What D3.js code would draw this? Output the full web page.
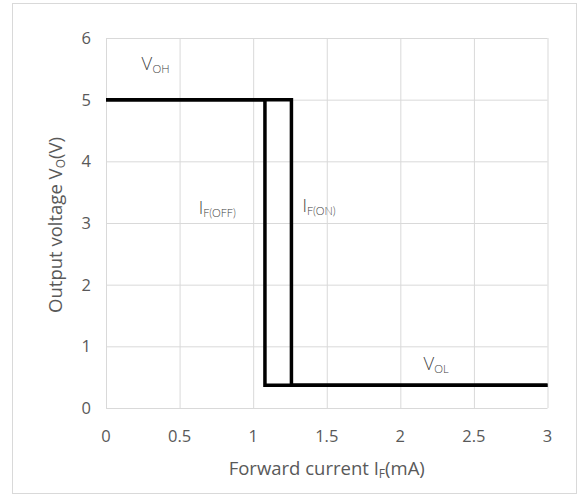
<!DOCTYPE html>
<html>
<head>
<meta charset="utf-8">
<script src="https://cdn.jsdelivr.net/npm/d3@7"></script>
<style>
  html, body { margin: 0; padding: 0; background: #fff; }
  svg text { font-family: "Open Sans", "Noto Sans", sans-serif; fill: #595959; }
  .note { font-family: Lato, "DejaVu Sans", sans-serif; font-weight: 300; fill: #404040; }
</style>
</head>
<body>
<div id="chart"></div>
<script>
  // values
  var xTicks = [0, 0.5, 1, 1.5, 2, 2.5, 3];
  var yTicks = [0, 1, 2, 3, 4, 5, 6];
  // rising current: stays high until I_F(ON), then drops
  var onX = [0, 1.26, 1.26, 3];
  var onY = [5, 5, 0.37, 0.37];
  // falling current: stays low until I_F(OFF), then rises
  var offX = [3, 1.08, 1.08, 0];
  var offY = [0.37, 0.37, 5, 5];
  var noteText = ["V", "I", "I", "V"];
  var noteSub = ["OH", "F(OFF)", "F(ON)", "OL"];
  var noteX = [0.24, 0.63, 1.335, 2.155];
  var noteY = [5.48, 3.15, 3.18, 0.62];

  var width = 578, height = 495;
  var margin = {left: 106, right: 30.5, top: 38, bottom: 87};

  var svg = d3.select("#chart")
    .append("svg")
    .attr("width", width)
    .attr("height", height);

  svg.append("rect")
    .attr("x", 12.5).attr("y", 3.5)
    .attr("width", 564).attr("height", 490)
    .attr("fill", "none")
    .attr("stroke", "#d9d9d9");

  var x = d3.scaleLinear().domain([0, 3]).range([margin.left, width - margin.right]);
  var y = d3.scaleLinear().domain([0, 6]).range([height - margin.bottom, margin.top]);

  // grid
  svg.append("g")
    .attr("transform", "translate(0," + y(0) + ")")
    .call(d3.axisBottom(x).tickValues(xTicks).tickSize(-(y(0) - y(6))).tickFormat(""))
    .call(function (g) { g.select(".domain").remove(); })
    .selectAll("line").attr("stroke", "#d9d9d9");

  svg.append("g")
    .attr("transform", "translate(" + x(0) + ",0)")
    .call(d3.axisLeft(y).tickValues(yTicks).tickSize(-(x(3) - x(0))).tickFormat(""))
    .call(function (g) { g.select(".domain").remove(); })
    .selectAll("line").attr("stroke", "#d9d9d9");

  // tick labels
  svg.append("g").selectAll("text")
    .data(xTicks).enter().append("text")
    .attr("x", function (d) { return x(d); })
    .attr("y", y(0) + 34)
    .attr("text-anchor", "middle")
    .style("font-size", "16.5px")
    .text(function (d) { return d; });

  svg.append("g").selectAll("text")
    .data(yTicks).enter().append("text")
    .attr("x", x(0) - 15)
    .attr("y", function (d) { return y(d) + 6; })
    .attr("text-anchor", "end")
    .style("font-size", "16.5px")
    .text(function (d) { return d; });

  // axis titles
  var xt = svg.append("text")
    .attr("x", (x(0) + x(3)) / 2)
    .attr("y", 475)
    .attr("text-anchor", "middle")
    .style("font-size", "18.5px");
  xt.append("tspan").text("Forward current I");
  xt.append("tspan").attr("dy", 3).style("font-size", "12px").text("F");
  xt.append("tspan").attr("dy", -3).text("(mA)");

  var yt = svg.append("text")
    .attr("transform", "translate(62," + (y(3) + 2) + ") rotate(-90)")
    .attr("text-anchor", "middle")
    .style("font-size", "18.5px");
  yt.append("tspan").text("Output voltage V");
  yt.append("tspan").attr("dy", 3).style("font-size", "12px").text("O");
  yt.append("tspan").attr("dy", -3).text("(V)");

  // the hysteresis loop
  var line = d3.line()
    .x(function (d) { return x(d[0]); })
    .y(function (d) { return y(d[1]); });

  [[onX, onY], [offX, offY]].forEach(function (s) {
    svg.append("path")
      .datum(d3.zip(s[0], s[1]))
      .attr("d", line)
      .attr("fill", "none")
      .attr("stroke", "#000")
      .attr("stroke-width", 3.5)
      .attr("stroke-linejoin", "miter");
  });

  // annotations
  noteText.forEach(function (t, i) {
    var n = svg.append("text")
      .attr("class", "note")
      .attr("x", x(noteX[i]))
      .attr("y", y(noteY[i]))
      .style("font-size", "17px");
    n.append("tspan").text(t);
    n.append("tspan").attr("dy", 3).style("font-size", "11px").text(noteSub[i]);
  });
</script>
</body>
</html>
